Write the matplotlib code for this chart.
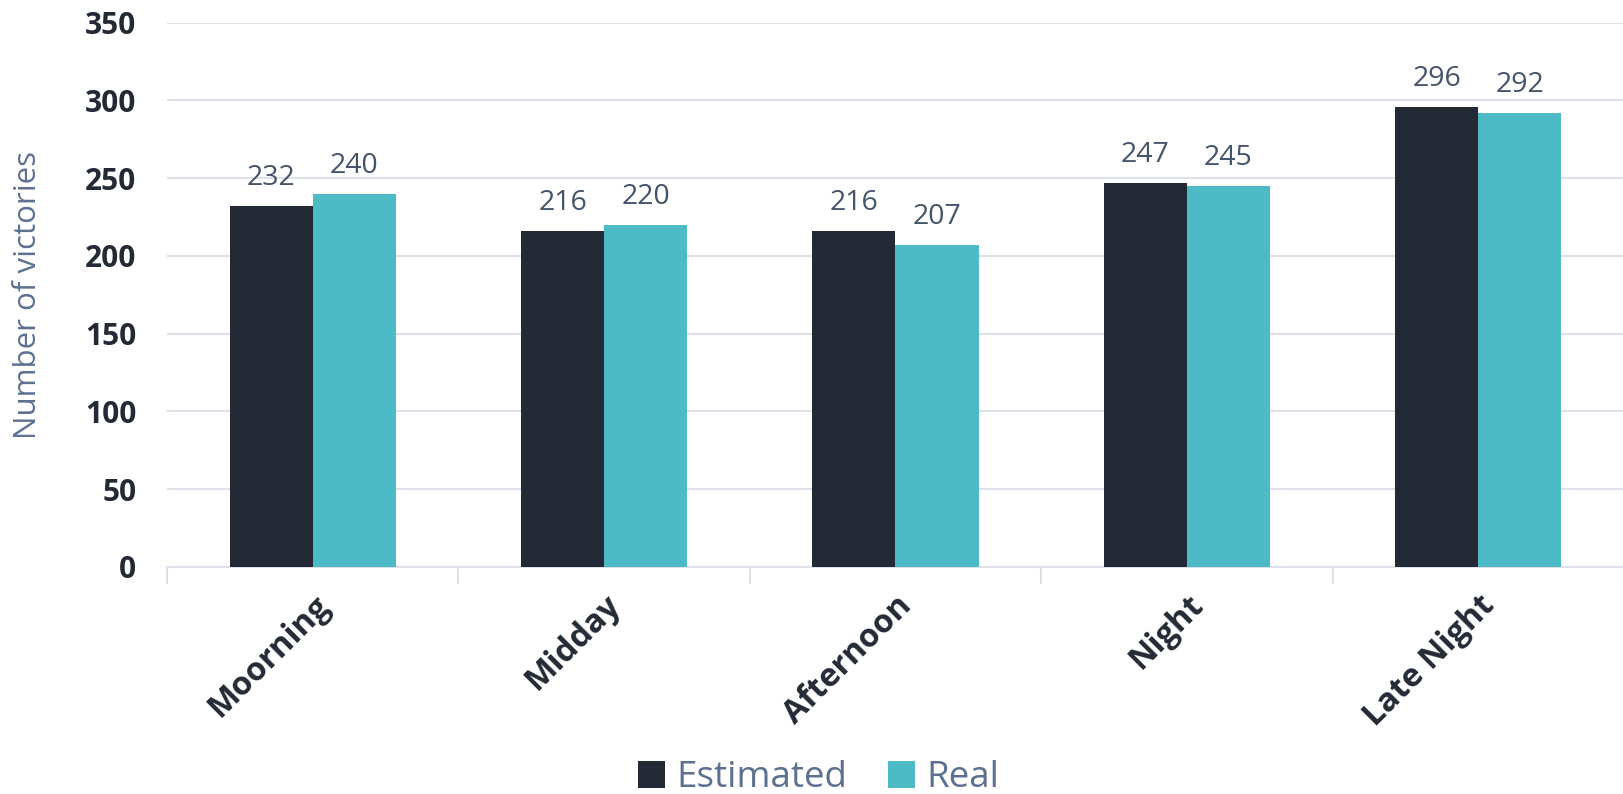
import numpy as np
import matplotlib.pyplot as plt

plt.rcParams['font.family'] = ['Open Sans', 'DejaVu Sans']

categories = ['Moorning', 'Midday', 'Afternoon', 'Night', 'Late Night']
estimated = [232, 216, 216, 247, 296]
real = [240, 220, 207, 245, 292]

dark = '#232a35'
teal = '#4dbbc6'
label_col = '#44546a'
grid_col = '#dde2ea'

fig = plt.figure(figsize=(16.24, 7.94), dpi=100)
ax = fig.add_axes([0.1028, 0.286, 0.8972, 0.6854])

x = np.arange(len(categories))
w = 0.285

b1 = ax.bar(x - w / 2, estimated, width=w, color=dark, label='Estimated', zorder=3)
b2 = ax.bar(x + w / 2, real, width=w, color=teal, label='Real', zorder=3)

# value labels above bars
for bars in (b1, b2):
    for rect in bars:
        h = rect.get_height()
        ax.annotate(str(int(h)), (rect.get_x() + rect.get_width() / 2, h),
                    xytext=(0, 10), textcoords='offset points',
                    ha='center', va='bottom', fontsize=20.5, color=label_col)

ax.set_xlim(-0.5, len(categories) - 0.5)
ax.set_ylim(0, 350)
ax.set_yticks(np.arange(0, 351, 50))
ax.tick_params(axis='y', length=0, pad=22, labelsize=21.5, labelcolor=dark)
for t in ax.get_yticklabels():
    t.set_fontweight('bold')

ax.set_xticks(x)
ax.set_xticklabels(categories, rotation=45, ha='right', rotation_mode='anchor',
                   fontsize=23.5, fontweight='bold', color=dark)
ax.tick_params(axis='x', length=0, pad=16)
# boundary tick marks between categories
ax.set_xticks(np.arange(-0.5, len(categories)), minor=True)
ax.tick_params(axis='x', which='minor', length=12, width=1.5, color=grid_col)

ax.grid(axis='y', color=grid_col, linewidth=1.5, zorder=0)
for s in ['top', 'right', 'left']:
    ax.spines[s].set_visible(False)
ax.spines['bottom'].set_color(grid_col)
ax.spines['bottom'].set_linewidth(1.5)

ax.set_ylabel('Number of victories', fontsize=22.5, color='#5c7090', labelpad=30)

fig.legend(handles=[b1, b2], labels=['Estimated', 'Real'], loc='center',
           bbox_to_anchor=(0.504, 0.02), ncol=2, frameon=False,
           fontsize=26.5, labelcolor='#5c7090', handlelength=0.75, handleheight=0.75,
           handletextpad=0.3, columnspacing=1.1)

fig.savefig('out.png', dpi=100)
